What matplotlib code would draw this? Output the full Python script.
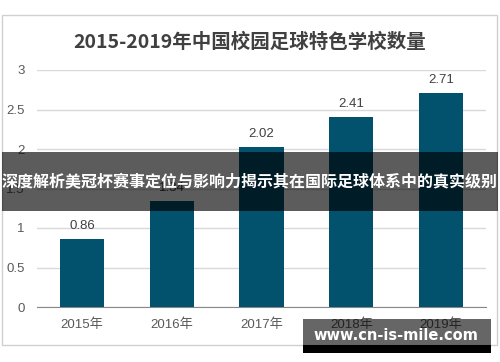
import matplotlib
matplotlib.use('Agg')
import matplotlib.pyplot as plt
from matplotlib.patches import Rectangle

plt.rcParams['font.family'] = ['Liberation Sans', 'Noto Sans CJK SC']

years = ['2015年', '2016年', '2017年', '2018年', '2019年']
counts = [0.86, 1.34, 2.02, 2.41, 2.71]
value_labels = ['0.86', '1.34', '2.02', '2.41', '2.71']
yticks = [0, 0.5, 1, 1.5, 2, 2.5, 3]
ytick_labels = ['0', '0.5', '1', '1.5', '2', '2.5', '3']

title = '2015-2019年中国校园足球特色学校数量'
banner = '深度解析美冠杯赛事定位与影响力揭示其在国际足球体系中的真实级别'
watermark = 'www.cn-is-mile.com'

W, H = 500, 362
fig = plt.figure(figsize=(5, 3.62), dpi=100)

def fx(px):
    return px / W

def fy(py):
    return 1 - py / H

# chart frame
fig.add_artist(Rectangle((fx(2), fy(345)), fx(495), 330 / H, transform=fig.transFigure,
                         fill=False, edgecolor='#d0d0d0', linewidth=1, zorder=1))

ax = fig.add_axes([fx(37), fy(307), fx(486) - fx(37), fy(70) - fy(307)])
x = range(len(years))
ax.bar(x, counts, width=0.49, color='#02526e', zorder=3)
ax.set_xlim(-0.5, 4.5)
ax.set_ylim(0, 3)
ax.set_yticks(yticks)
ax.set_yticklabels(ytick_labels)
ax.set_xticks(list(x))
ax.set_xticklabels(years)
ax.tick_params(length=0, labelsize=9.5, labelcolor='#595959')
ax.tick_params(axis='y', pad=9)
ax.tick_params(axis='x', pad=8)
ax.grid(axis='y', color='#d9d9d9', linewidth=1, zorder=0)
for s in ['top', 'right', 'left']:
    ax.spines[s].set_visible(False)
ax.spines['bottom'].set_color('#888888')

for i, v in enumerate(counts):
    ax.annotate(value_labels[i], (i, v), xytext=(0, 5), textcoords='offset points',
                ha='center', va='bottom', fontsize=9.5, color='#404040', zorder=4)

fig.text(0.5, fy(42), title, ha='center', va='center', fontsize=14,
         fontweight='bold', color='#404040', family=['Noto Sans CJK SC'])

# overlay banner
fig.add_artist(Rectangle((fx(2), fy(211)), fx(496), 59 / H, transform=fig.transFigure,
                         facecolor='black', alpha=0.64, edgecolor='none', zorder=10))
fig.text(0.5, fy(181), banner, ha='center', va='center', fontsize=11.5,
         fontweight='bold', color='white', zorder=11, family=['Noto Sans CJK SC'])

# watermark
fig.add_artist(Rectangle((fx(303), fy(345)), fx(188), 26 / H, transform=fig.transFigure,
                         facecolor='black', alpha=0.6, edgecolor='none', zorder=10))
fig.add_artist(Rectangle((fx(303), fy(353)), fx(188), 8 / H, transform=fig.transFigure,
                         facecolor='black', edgecolor='none', zorder=10))
fig.text(fx(396), fy(335), watermark, ha='center', va='center', fontsize=10.5,
         fontweight='bold', color='white', zorder=11, family=['DejaVu Sans'])

fig.savefig('out.png', dpi=100)
